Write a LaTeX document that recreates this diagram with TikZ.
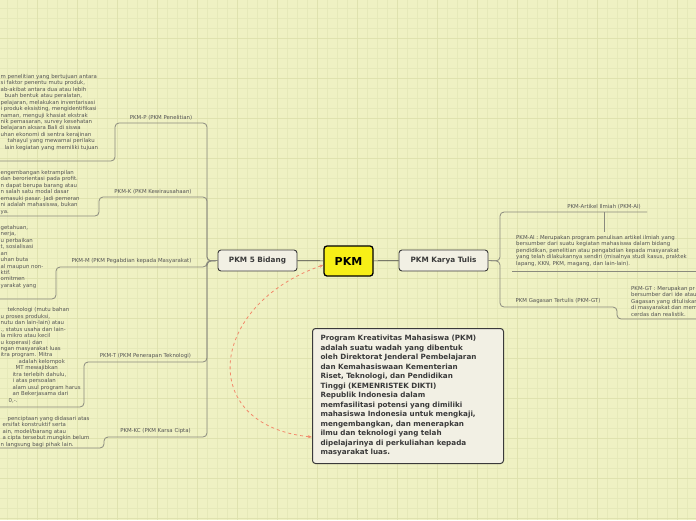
\documentclass[tikz,border=0pt]{standalone}
\usepackage{fontspec}
\setmainfont{DejaVu Sans}
\usetikzlibrary{arrows.meta}
\definecolor{paper}{HTML}{EFF1C3}
\definecolor{gridline}{HTML}{E6E9B9}
\definecolor{gridmajor}{HTML}{DFE2AF}
\definecolor{pkmyellow}{HTML}{F7EF17}
\definecolor{boxfill}{HTML}{F2F0E4}
\definecolor{boxline}{HTML}{3A3A3A}
\definecolor{branchgrey}{HTML}{8A8A7E}
\definecolor{txtgrey}{HTML}{555555}
\definecolor{notetext}{HTML}{3A3A3A}
\definecolor{dashorange}{HTML}{F2896B}
\newcommand\tinytxt{\fontsize{5.4}{6.45}\selectfont}
\tikzset{
  gridminor/.style = {draw=gridline, line width=0.6pt},
  gridmaj/.style   = {draw=gridmajor, line width=1pt},
  rootbox/.style   = {draw=black, line width=1.3pt, rounded corners=3pt,
                      fill=pkmyellow, font=\fontsize{11}{13}\selectfont\bfseries,
                      minimum width=49pt, minimum height=30pt, inner sep=0pt},
  mainbox/.style   = {draw=boxline, line width=0.9pt, rounded corners=3pt,
                      fill=boxfill, font=\fontsize{7.3}{9}\selectfont\bfseries,
                      text=notetext, minimum height=21pt, inner sep=0pt},
  link/.style      = {draw=boxline, line width=0.7pt},
  branch/.style    = {draw=branchgrey, line width=0.8pt, rounded corners=4pt},
  toplab/.style    = {font=\tinytxt, text=txtgrey, anchor=south, inner sep=1pt},
  bodytxt/.style   = {font=\tinytxt, text=txtgrey, align=left,
                      anchor=north west, inner sep=0pt},
  notebox/.style   = {draw=boxline, line width=1pt, rounded corners=3pt,
                      fill=boxfill, font=\fontsize{7.2}{9.5}\selectfont\bfseries,
                      text=notetext, align=left, anchor=north west,
                      text width=175pt, inner xsep=8pt,
                      minimum width=191pt, minimum height=135pt},
  notelink/.style  = {draw=dashorange, line width=0.8pt, dash pattern=on 3pt off 3pt,
                      {Stealth[length=4pt]}-{Stealth[length=4pt]}},
}
\begin{document}
\begin{tikzpicture}[x=1pt, y=-1pt]
  \useasboundingbox (0,0) rectangle (696,520);
  \clip (0,0) rectangle (696,520);
  \fill[paper] (0,0) rectangle (696,520);
  \foreach \gx in {7,17,...,697} \draw[gridminor] (\gx,0) -- (\gx,520);
  \foreach \gy in {8,18,...,518} \draw[gridminor] (0,\gy) -- (696,\gy);
  \foreach \gx in {37,77,...,677} \draw[gridmaj] (\gx,0) -- (\gx,520);
  \foreach \gy in {38,78,...,518} \draw[gridmaj] (0,\gy) -- (696,\gy);

  % centre
  \node[rootbox] (pkm) at (348.5,261) {PKM};
  \node[mainbox, minimum width=79pt] (bidang) at (257.5,260.5) {PKM 5 Bidang};
  \node[mainbox, minimum width=89pt] (karya) at (443.5,260.5) {PKM Karya Tulis};
  \draw[link] (bidang) -- (pkm);
  \draw[link] (pkm) -- (karya);

  % left side
  \coordinate (ltrunk) at (207,261);

  % PKM-P
  \coordinate (p-a) at (115,123);
  \coordinate (p-b) at (-3,161);
  \draw[branch] (bidang.west) -- (ltrunk) |- (p-a) |- (p-b);
  \node[toplab] (lab-p) at (161,121) {PKM-P (PKM Penelitian)};
  \node[bodytxt] (txt-p) at (0.5,74)
    {m penelitian yang bertujuan antara\\
     si faktor penentu mutu produk,\\
     ab-akibat antara dua atau lebih\\
     \hspace{4pt}buah bentuk atau peralatan,\\
     pelajaran, melakukan inventarisasi\\
     i produk eksisting, mengidentifikasi\\
     naman, menguji khasiat ekstrak\\
     nik pemasaran, survey kesehatan\\
     belajaran aksara Bali di siswa\\
     uhan ekonomi di sentra kerajinan\\
     \hspace{7pt}tahayul yang mewarnai perilaku\\
     \hspace{4pt}lain kegiatan yang memiliki tujuan};

  % PKM-K
  \coordinate (k-a) at (99,197);
  \coordinate (k-b) at (-3,216);
  \draw[branch] (bidang.west) -- (ltrunk) |- (k-a) |- (k-b);
  \node[toplab] (lab-k) at (153,195) {PKM-K (PKM Kewirausahaan)};
  \node[bodytxt] (txt-k) at (0.5,170)
    {engembangan ketrampilan\\
     dan berorientasi pada profit.\\
     n dapat berupa barang atau\\
     n salah satu modal dasar\\
     emasuki pasar. Jadi pemeran\\
     ni adalah mahasiswa, bukan\\
     ya.};

  % PKM-M
  \coordinate (m-a) at (56,267);
  \coordinate (m-b) at (-3,299);
  \draw[branch] (bidang.west) -- (ltrunk) |- (m-a) |- (m-b);
  \node[toplab] (lab-m) at (131.5,265) {PKM-M (PKM Pegabdian kepada Masyarakat)};
  \node[bodytxt] (txt-m) at (0.5,225)
    {getahuan,\\
     nerja,\\
     u perbaikan\\
     t, sosialisasi\\
     an\\
     uhan buta\\
     al maupun non-\\
     ktif.\\
     omitmen\\
     yarakat yang};

  % PKM-T
  \coordinate (t-a) at (84,362);
  \coordinate (t-b) at (-3,407);
  \draw[branch] (bidang.west) -- (ltrunk) |- (t-a) |- (t-b);
  \node[toplab] (lab-t) at (145.5,360) {PKM-T (PKM Penerapan Teknologi)};
  \node[bodytxt] (txt-t) at (0.5,307.5)
    {\hspace{7pt}teknologi (mutu bahan\\
     u proses produksi,\\
     nutu dan lain-lain) atau\\
     ., status usaha dan lain-\\
     la mikro atau kecil\\
     u koperasi) dan\\
     ngan masyarakat luas\\
     itra program. Mitra\\
     \hspace{18pt}adalah kelompok\\
     \hspace{15pt}MT mewajibkan\\
     \hspace{12pt}itra terlebih dahulu,\\
     \hspace{12pt}i atas persoalan\\
     \hspace{12pt}alam usul program harus\\
     \hspace{12pt}an Bekerjasama dari\\
     \hspace{8pt}0,-.};

  % PKM-KC
  \coordinate (kc-a) at (104,437);
  \coordinate (kc-b) at (-3,448);
  \draw[branch] (bidang.west) -- (ltrunk) |- (kc-a) |- (kc-b);
  \node[toplab] (lab-kc) at (155.5,435) {PKM-KC (PKM Karsa Cipta)};
  \node[bodytxt] (txt-kc) at (0.5,416)
    {\hspace{7pt}penciptaan yang didasari atas\\
     \hspace{2pt}ersifat konstruktif serta\\
     \hspace{2pt}ain, model/barang atau\\
     \hspace{2pt}a cipta tersebut mungkin belum\\
     n langsung bagi pihak lain.};

  % right side
  \coordinate (rtrunk) at (500,261);

  % PKM-AI
  \coordinate (ai-a) at (647,212);
  \coordinate (ai-stem) at (604,232);
  \coordinate (ai-u1) at (512,271);
  \coordinate (ai-u2) at (699,271);
  \draw[branch] (karya.east) -- (rtrunk) |- (ai-a);
  \node[toplab] (lab-ai) at (604,210) {PKM-Artikel Ilmiah (PKM-AI)};
  \draw[branch] (lab-ai.south |- ai-a) -- (ai-stem);
  \node[bodytxt] (txt-ai) at (516,235)
    {PKM-AI : Merupakan program penulisan artikel ilmiah yang\\
     bersumber dari suatu kegiatan mahasiswa dalam bidang\\
     pendidikan, penelitian atau pengabdian kepada masyarakat\\
     yang telah dilakukannya sendiri (misalnya studi kasus, praktek\\
     lapang, KKN, PKM, magang, dan lain-lain).};
  \draw[branch] (ai-u1) -- (ai-u2);

  % PKM-GT
  \coordinate (gt-a) at (617,307);
  \coordinate (gt-b) at (699,319);
  \draw[branch] (karya.east) -- (rtrunk) |- (gt-a) |- (gt-b);
  \node[toplab] (lab-gt) at (558,305) {PKM Gagasan Tertulis (PKM-GT)};
  \node[bodytxt] (txt-gt) at (631,286)
    {PKM-GT : Merupakan pr\\
     bersumber dari ide atau\\
     Gagasan yang dituliskan\\
     di masyarakat dan mem\\
     cerdas dan realistik.};

  % note
  \node[notebox] (note) at (312,328)
    {Program Kreativitas Mahasiswa (PKM)\\
     adalah suatu wadah yang dibentuk\\
     oleh Direktorat Jenderal Pembelajaran\\
     dan Kemahasiswaan Kementerian\\
     Riset, Teknologi, dan Pendidikan\\
     Tinggi (KEMENRISTEK DIKTI)\\
     Republik Indonesia dalam\\
     memfasilitasi potensi yang dimiliki\\
     mahasiswa Indonesia untuk mengkaji,\\
     mengembangkan, dan menerapkan\\
     ilmu dan teknologi yang telah\\
     dipelajarinya di perkuliahan kepada\\
     masyarakat luas.};
  \coordinate (note-in) at ([yshift=-41pt]note.west);
  \coordinate (pkm-in) at ([yshift=-4pt]pkm.west);
  \draw[notelink] (pkm-in) .. controls (208,305) and (196,425.5) .. (note-in);
\end{tikzpicture}
\end{document}
